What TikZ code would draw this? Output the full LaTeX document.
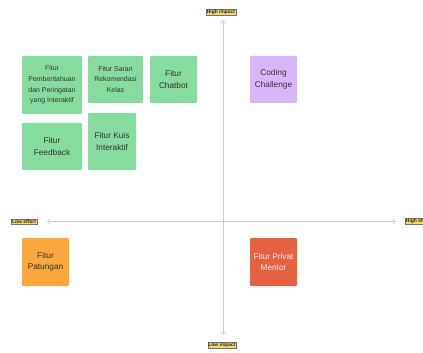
\documentclass[tikz,border=0pt]{standalone}
\usepackage{fontspec}
\setmainfont{Liberation Sans}
\usetikzlibrary{arrows.meta}

\definecolor{idea}{RGB}{134,219,158}
\definecolor{challenge}{RGB}{216,182,250}
\definecolor{patungan}{RGB}{250,168,62}
\definecolor{mentor}{RGB}{230,96,66}
\definecolor{tag}{RGB}{246,216,110}
\definecolor{axisline}{RGB}{205,205,205}

\tikzset{every picture/.style={line width=0.75pt}}
\tikzset{
  card/.style={rounded corners=0.8pt, inner sep=0.75pt, align=center, text=black!80, font=\fontsize{6.2}{8.6}\selectfont},
  smallcard/.style={card, font=\fontsize{5.2}{7.9}\selectfont},
  tagbox/.style={fill=tag, draw=black!55, line width=0.2pt, inner sep=0.6pt, font=\bfseries\fontsize{3.7}{4}\selectfont, text=black!85},
  axis/.style={draw=axisline, line width=0.5pt, {Straight Barb[length=2.2pt,width=4pt]}-{Straight Barb[length=2.2pt,width=4pt]}}
}

\begin{document}
\begin{tikzpicture}[x=0.75pt,y=0.75pt,yscale=-1]
		\useasboundingbox (0,0) rectangle (423,352);

		%Axis ends
		\coordinate (top) at (223,20);
		\coordinate (bottom) at (223,335);
		\coordinate (left) at (47,221.5);
		\coordinate (right) at (396,221.5);
		\draw [axis] (bottom) -- (top);
		\draw [axis] (left) -- (right);

		% Axis Labels
		\node [tagbox] (himpact) at (221,12) {High impact};
		\node [tagbox] (limpact) at (222,345.5) {Low impact};
		\node [tagbox] (leffort) at (24,221.5) {Low effort};
		\node [tagbox, anchor=west] (heffort) at (405,221.5) {High effort};

		% Low effort, high impact
		\node [smallcard, fill=idea, minimum width=45pt, minimum height=43.5pt] (notif) at (52,85) {Fitur\\Pemberitahuan\\dan Peringatan\\yang Interaktif};
		\node [smallcard, fill=idea, minimum width=41.25pt, minimum height=35.25pt] (saran) at (115.5,79.5) {Fitur Saran\\Rekomendasi\\Kelas};
		\node [card, fill=idea, minimum width=35.25pt, minimum height=35.25pt] (chatbot) at (173.5,79.5) {Fitur\\Chatbot};
		\node [card, fill=idea, minimum width=45pt, minimum height=35.25pt] (feedback) at (52,146.5) {Fitur\\Feedback};
		\node [card, fill=idea, minimum width=36pt, minimum height=42.75pt] (kuis) at (112,141.5) {Fitur Kuis\\Interaktif};

		% High effort, high impact
		\node [card, fill=challenge, minimum width=35.25pt, minimum height=35.25pt] (coding) at (273.5,79.5) {Coding\\Challenge};

		% Low effort, low impact
		\node [card, fill=patungan, minimum width=35.25pt, minimum height=36pt] (patungan) at (45.5,262) {Fitur\\Patungan};

		% High effort, low impact
		\node [card, fill=mentor, text=white!92!mentor, minimum width=35.25pt, minimum height=36pt] (privat) at (273.5,262) {Fitur Privat\\Mentor};
\end{tikzpicture}
\end{document}
